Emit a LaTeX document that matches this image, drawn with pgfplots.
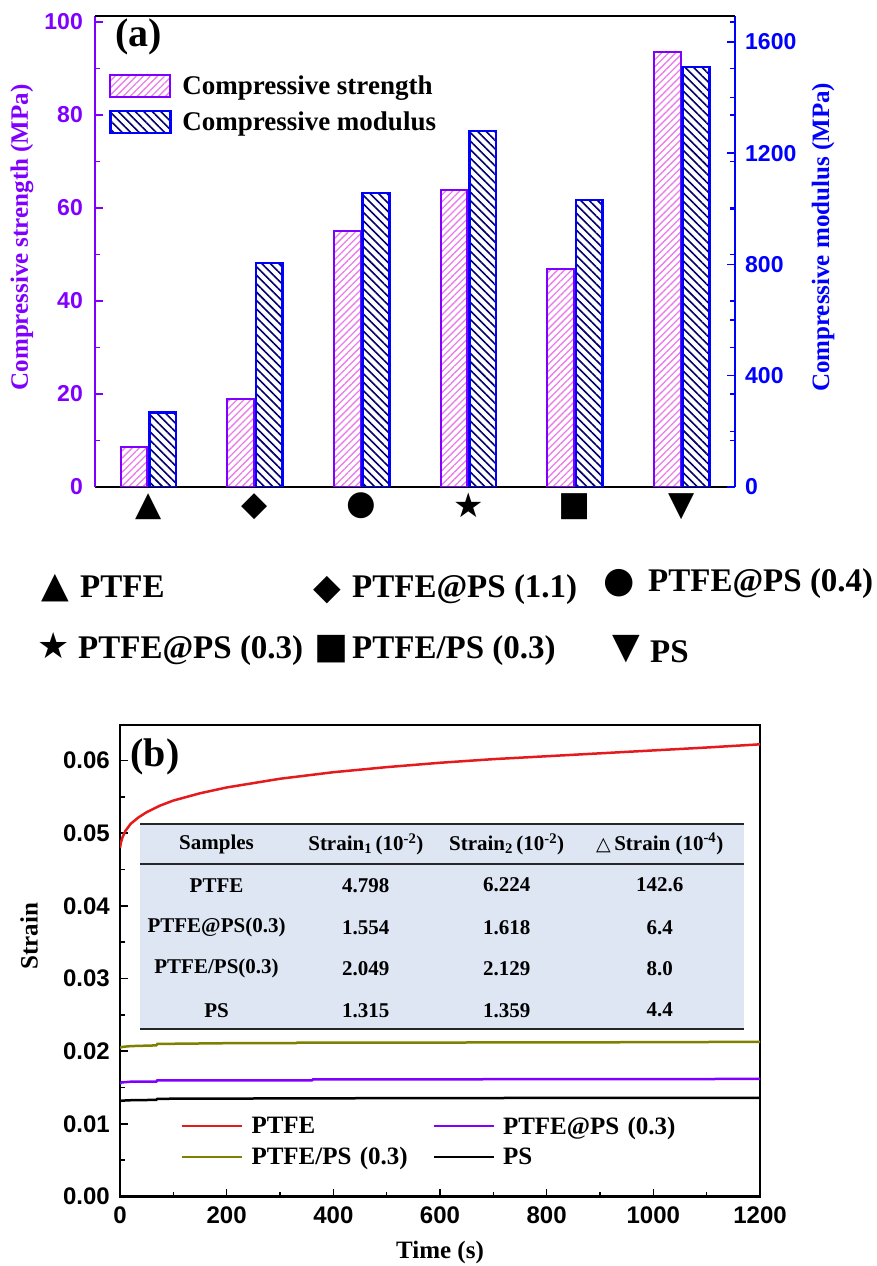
\documentclass[border=0pt]{standalone}
\usepackage{fontspec}
\setmainfont{Liberation Serif}
\setsansfont{Liberation Sans}
\newfontfamily\symfont{DejaVu Sans}
\usepackage{pgfplots}
\pgfplotsset{compat=1.18}
\usetikzlibrary{patterns.meta}
\pgfplotsset{/pgf/number format/assume math mode=true,
  /pgf/number format/set thousands separator={}}

\definecolor{cpurple}{RGB}{128,0,255}
\definecolor{cblue}{RGB}{0,0,255}
\definecolor{cpink}{RGB}{235,125,235}
\definecolor{cnavy}{RGB}{0,0,110}
\definecolor{cred}{RGB}{228,26,28}
\definecolor{colive}{RGB}{128,128,0}
\definecolor{tabfill}{RGB}{221,230,242}
\newcommand{\fs}[1]{\fontsize{#1}{#1}\selectfont}

\begin{document}
\begin{tikzpicture}
\path[use as bounding box] (0,0) rectangle (877pt,1266pt);

% ---------------- panel (a), left axis ----------------
\begin{axis}[
  at={(95pt,779pt)}, anchor=south west,
  scale only axis, width=640pt, height=471pt,
  xmin=-0.5, xmax=5.5, ymin=0, ymax=101.3,
  axis x line*=bottom, axis y line*=left,
  x axis line style={black, line width=2.5pt, -},
  y axis line style={cpurple, line width=2.5pt, -},
  xtick={0,1,2,3,4,5},
  xticklabels={▲,◆,●,★,■,▼},
  xtick style={draw=none},
  xticklabel style={font=\symfont\fs{34}, text=black, inner sep=0pt, yshift=-6pt},
  ytick={0,20,40,60,80,100}, minor y tick num=1,
  ytick style={cpurple, line width=1.5pt},
  tick align=inside, major tick length=8pt, minor tick length=5pt,
  yticklabel style={font=\sffamily\bfseries\fs{23}, text=cpurple, inner sep=0pt, xshift=-12pt},
  ylabel={Compressive strength (MPa)},
  ylabel style={font=\bfseries\fs{25}, text=cpurple, at={(axis description cs:-0.114,0.53)}, anchor=center},
  legend style={at={(axis description cs:0.022,0.878)}, anchor=north west, draw=none, fill=none,
    font=\bfseries\fs{27}, row sep=12pt, column sep=9pt, inner sep=0pt},
  legend cell align=left,
  legend image code/.code={\draw[#1] (0pt,-11pt) rectangle (60pt,11pt);},
]
\addplot[ybar, bar width=0.25, bar shift=-0.135, draw=cpurple, line width=2pt,
  pattern={Lines[angle=45,distance=5pt,line width=1.3pt]}, pattern color=cpink]
  coordinates {(0,8.6) (1,18.9) (2,55.0) (3,63.8) (4,46.9) (5,93.6)};
\addlegendentry{Compressive strength}
\addlegendimage{draw=cblue, line width=2.5pt,
  pattern={Lines[angle=-45,distance=6pt,line width=1.6pt]}, pattern color=cnavy}
\addlegendentry{Compressive modulus}
\end{axis}

% ---------------- panel (a), right axis ----------------
\begin{axis}[
  at={(95pt,779pt)}, anchor=south west,
  scale only axis, width=640pt, height=471pt,
  xmin=-0.5, xmax=5.5, ymin=0, ymax=1693,
  axis x line=none, axis y line*=right,
  y axis line style={cblue, line width=2.5pt, -},
  ytick={0,400,800,1200,1600}, minor ytick={200,600,1000,1400},
  extra y ticks={167.2,334.4,501.6,668.8,836,1003.2,1170.4,1337.6,1504.8,1672},
  extra y tick labels={},
  extra y tick style={major tick length=5pt},
  ytick style={cblue, line width=1.5pt},
  tick align=inside, major tick length=8pt, minor tick length=5pt,
  yticklabel style={font=\sffamily\bfseries\fs{23}, text=cblue, inner sep=0pt, xshift=10pt},
  ylabel={Compressive modulus (MPa)},
  ylabel style={font=\bfseries\fs{25}, text=cblue, at={(axis description cs:1.1375,0.53)}, anchor=center, rotate=0},
]
\addplot[ybar, bar width=0.25, bar shift=0.135, draw=cblue, line width=2.5pt,
  pattern={Lines[angle=-45,distance=6pt,line width=1.6pt]}, pattern color=cnavy]
  coordinates {(0,267) (1,806) (2,1056) (3,1279) (4,1031) (5,1509)};
\draw[black, line width=2.5pt] (rel axis cs:0,1) -- (rel axis cs:1,1);
\end{axis}

\node[anchor=base west, font=\bfseries\fs{40}] at (112pt,1219pt) {(a)};

% symbol legend under panel (a)
\begin{scope}[every node/.style={anchor=base west, inner sep=0pt}]
\node[font=\symfont\fs{36}] at (41pt,668pt) {▲};
\node[font=\bfseries\fs{33}] at (80pt,668pt) {PTFE};
\node[font=\symfont\fs{36}] at (313pt,666pt) {◆};
\node[font=\bfseries\fs{33}] at (352pt,668pt) {PTFE@PS (1.1)};
\node[font=\symfont\fs{36}] at (603pt,673pt) {●};
\node[font=\bfseries\fs{33}] at (648pt,674pt) {PTFE@PS (0.4)};
\node[font=\symfont\fs{36}] at (37pt,607pt) {★};
\node[font=\bfseries\fs{33}] at (78pt,607pt) {PTFE@PS (0.3)};
\node[font=\symfont\fs{36}] at (314pt,607pt) {■};
\node[font=\bfseries\fs{33}] at (352pt,607pt) {PTFE/PS (0.3)};
\node[font=\symfont\fs{36}] at (612pt,607pt) {▼};
\node[font=\bfseries\fs{33}] at (650pt,603pt) {PS};
\end{scope}

% ---------------- panel (b) ----------------
\begin{axis}[
  at={(120pt,69.5pt)}, anchor=south west,
  scale only axis, width=640pt, height=471.5pt,
  xmin=0, xmax=1200, ymin=0, ymax=0.0649,
  axis line style={black, line width=2.5pt},
  xtick={0,200,400,600,800,1000,1200}, minor x tick num=1,
  ytick={0,0.01,0.02,0.03,0.04,0.05,0.06}, minor y tick num=1,
  tick pos=left, tick align=inside,
  major tick length=8pt, minor tick length=5pt,
  tick style={black, line width=1.5pt},
  scaled y ticks=false,
  yticklabel style={/pgf/number format/fixed, /pgf/number format/fixed zerofill, /pgf/number format/precision=2},
  ticklabel style={font=\sffamily\bfseries\fs{24}, inner sep=0pt},
  xticklabel style={yshift=-10pt},
  yticklabel style={xshift=-10pt},
  xlabel={Time (s)},
  xlabel style={font=\bfseries\fs{25}, at={(axis description cs:0.5,-0.118)}, anchor=center},
  ylabel={Strain},
  ylabel style={font=\bfseries\fs{25}, at={(axis description cs:-0.142,0.552)}, anchor=center},
  legend columns=2,
  legend style={at={(axis description cs:0.095,0.174)}, anchor=north west, draw=none, fill=none,
    font=\bfseries\fs{25}, inner sep=0pt, row sep=8pt, column sep=6pt,
    nodes={text width=173pt, align=left}},
  legend cell align=left,
  legend image code/.code={\draw[#1] (0pt,0pt) -- (60pt,0pt);},
  every axis plot/.append style={line width=2.5pt},
]
\addplot[cred] coordinates {
(0,0.04798) (2,0.0488) (5,0.0495) (10,0.0503) (20,0.0513) (35,0.0522) (50,0.0529)
(75,0.0538) (100,0.0545) (150,0.0555) (200,0.0563) (250,0.0569)
(300,0.0575) (400,0.0584) (500,0.0591) (600,0.0597) (700,0.0602)
(800,0.0606) (900,0.0610) (1000,0.0614) (1100,0.0618) (1200,0.06224)};
\addlegendentry{PTFE}
\addplot[cpurple] coordinates {
(0,0.01554) (3,0.0157) (20,0.0158) (68,0.0158) (70,0.0160) (360,0.0160)
(362,0.01612) (700,0.01614) (1200,0.01618)};
\addlegendentry{PTFE@PS (0.3)}
\addplot[colive] coordinates {
(0,0.02049) (5,0.0206) (20,0.0207) (68,0.0208) (70,0.0210) (200,0.0211)
(330,0.0211) (332,0.02118) (700,0.0212) (1000,0.02124) (1200,0.02129)};
\addlegendentry{PTFE/PS (0.3)}
\addplot[black] coordinates {
(0,0.01315) (5,0.0132) (20,0.01325) (68,0.0133) (70,0.01345) (300,0.0135)
(600,0.01355) (1200,0.01359)};
\addlegendentry{PS}

% inset table
\fill[tabfill] (axis cs:37.5,0.0230) rectangle (axis cs:1170,0.05133);
\draw[line width=2pt, black!85] (axis cs:37.5,0.05133) -- (axis cs:1170,0.05133);
\draw[line width=2pt, black!85] (axis cs:37.5,0.04574) -- (axis cs:1170,0.04574);
\draw[line width=2pt, black!85] (axis cs:37.5,0.0230) -- (axis cs:1170,0.0230);
\begin{scope}[every node/.style={font=\bfseries\fs{21}, anchor=center}]
\node at (axis cs:181,0.0485) {Samples};
\node at (axis cs:461,0.0485) {Strain\textsubscript{1}\,(10\textsuperscript{-2})};
\node at (axis cs:725,0.0485) {Strain\textsubscript{2}\,(10\textsuperscript{-2})};
\node at (axis cs:1012,0.0485) {{\symfont\fs{19}△}\,Strain (10\textsuperscript{-4})};
\node at (axis cs:181,0.04285) {PTFE};
\node at (axis cs:461,0.04285) {4.798};
\node at (axis cs:725,0.04285) {6.224};
\node at (axis cs:1012,0.04285) {142.6};
\node at (axis cs:181,0.03702) {PTFE@PS(0.3)};
\node at (axis cs:461,0.03702) {1.554};
\node at (axis cs:725,0.03702) {1.618};
\node at (axis cs:1012,0.03702) {6.4};
\node at (axis cs:181,0.03138) {PTFE/PS(0.3)};
\node at (axis cs:461,0.03138) {2.049};
\node at (axis cs:725,0.03138) {2.129};
\node at (axis cs:1012,0.03138) {8.0};
\node at (axis cs:181,0.02564) {PS};
\node at (axis cs:461,0.02564) {1.315};
\node at (axis cs:725,0.02564) {1.359};
\node at (axis cs:1012,0.02564) {4.4};
\end{scope}
\end{axis}

\node[anchor=base west, font=\bfseries\fs{40}] at (127pt,499pt) {(b)};
\end{tikzpicture}
\end{document}
